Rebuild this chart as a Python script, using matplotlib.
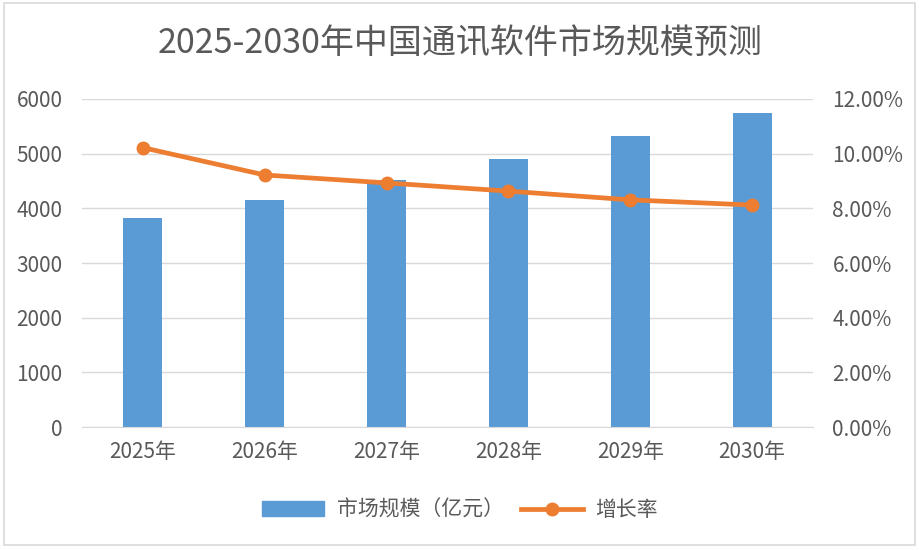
import matplotlib.pyplot as plt
from matplotlib.patches import Rectangle
from matplotlib.lines import Line2D
from matplotlib.ticker import FuncFormatter

plt.rcParams['font.family'] = ['Noto Sans CJK SC', 'DejaVu Sans']

years = ["2025年", "2026年", "2027年", "2028年", "2029年", "2030年"]
market_size = [3820, 4150, 4520, 4900, 5320, 5740]
growth_rate = [10.22, 9.22, 8.93, 8.63, 8.31, 8.12]

BLUE = "#5B9BD5"
ORANGE = "#ED7D31"
TEXT = "#595959"
GRID = "#D9D9D9"

fig = plt.figure(figsize=(9.2, 5.5), dpi=100)
fig.patch.set_facecolor("white")

# chart border like the spreadsheet chart frame
fig.add_artist(Rectangle((0.004, 0.01), 0.991, 0.985, transform=fig.transFigure,
                         fill=False, edgecolor=GRID, linewidth=1.2))

ax = fig.add_axes([0.0891, 0.2236, 0.7946, 0.5964])
x = list(range(len(years)))
ax.bar(x, market_size, width=0.32, color=BLUE, zorder=2)
ax.set_xlim(-0.5, len(years) - 0.5)
ax.set_ylim(0, 6000)
ax.set_yticks(range(0, 6001, 1000))
ax.yaxis.grid(True, color=GRID, linewidth=1)
ax.set_axisbelow(True)
for s in ["top", "right", "left"]:
    ax.spines[s].set_visible(False)
ax.spines["bottom"].set_color(GRID)
ax.set_xticks(x)
ax.set_xticklabels(years)
ax.tick_params(axis="both", length=0, labelsize=15, colors=TEXT)
ax.tick_params(axis="x", pad=10)
ax.tick_params(axis="y", pad=14)

ax2 = ax.twinx()
ax2.plot(x, growth_rate, color=ORANGE, linewidth=3.4, marker="o", markersize=9,
         zorder=3)
ax2.set_ylim(0, 12)
ax2.set_yticks(range(0, 13, 2))
ax2.yaxis.set_major_formatter(FuncFormatter(lambda v, p: f"{v:.2f}%"))
for s in ["top", "right", "left", "bottom"]:
    ax2.spines[s].set_visible(False)
ax2.tick_params(axis="y", length=0, labelsize=15, colors=TEXT, pad=14)

fig.text(0.5, 0.921, "2025-2030年中国通讯软件市场规模预测", ha="center", va="center",
         fontsize=24.5, color=TEXT)

handles = [Rectangle((0, 0), 1, 1, color=BLUE),
           Line2D([0], [0], color=ORANGE, linewidth=3.4, marker="o", markersize=9)]
fig.legend(handles, ["市场规模（亿元）", "增长率"], loc="center", bbox_to_anchor=(0.5, 0.073),
           ncol=2, frameon=False, fontsize=15, labelcolor=TEXT, handlelength=3.0,
           columnspacing=0.8, handletextpad=0.6)

fig.savefig("out.png", dpi=100)
